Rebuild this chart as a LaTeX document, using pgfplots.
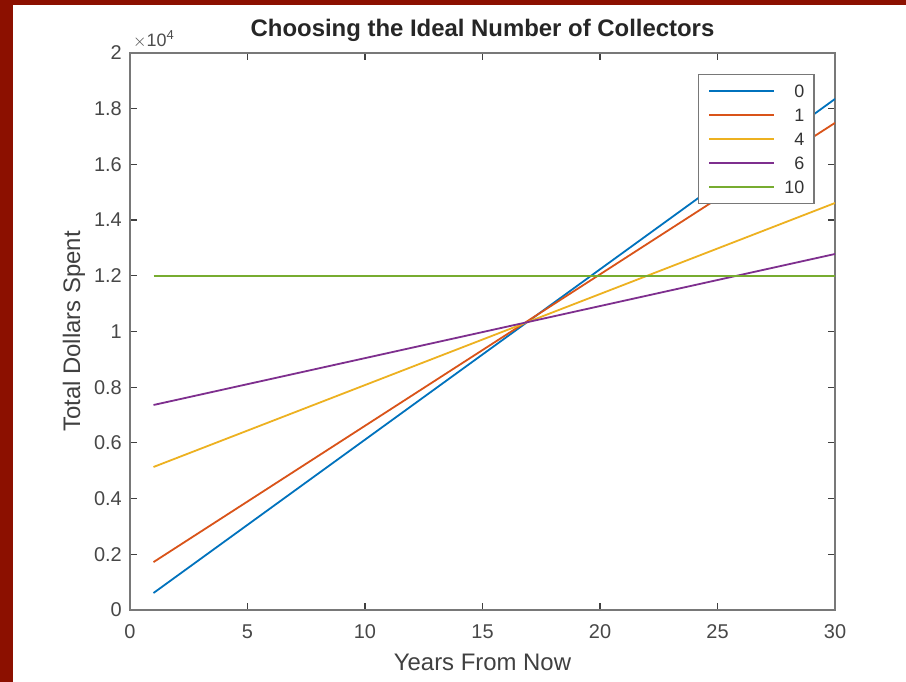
\documentclass[border=0pt]{standalone}
\usepackage{pgfplots}
\pgfplotsset{compat=1.18}
\usepackage{fontspec}
\setmainfont{Liberation Sans}
\definecolor{bordercol}{RGB}{140,16,0}
\definecolor{axcol}{RGB}{120,120,120}
\definecolor{mblue}{rgb}{0,0.447,0.741}
\definecolor{morange}{rgb}{0.85,0.325,0.098}
\definecolor{myellow}{rgb}{0.929,0.694,0.125}
\definecolor{mpurple}{rgb}{0.494,0.184,0.556}
\definecolor{mgreen}{rgb}{0.466,0.674,0.188}
\begin{document}
\begin{tikzpicture}
\fill[bordercol] (0,0) rectangle (906bp,682bp);
\fill[white] (13bp,0) rectangle (906bp,677bp);
\begin{axis}[
  at={(130bp,72bp)}, anchor=south west,
  scale only axis, width=705bp, height=557bp,
  xmin=0, xmax=30, ymin=0, ymax=20000,
  clip mode=individual,
  xtick={0,5,...,30},
  ytick={0,2000,...,20000},
  yticklabels={0,0.2,0.4,0.6,0.8,1,1.2,1.4,1.6,1.8,2},
  scaled y ticks=false,
  /pgf/number format/assume math mode=true,
  tick align=inside, xtick pos=both, ytick pos=both,
  major tick length=7bp,
  axis line style={axcol, line width=2.2bp},
  every tick/.style={black!75, line width=1.2bp},
  tick label style={font=\fontsize{20}{23}\selectfont, text=black!72, inner sep=0pt},
  xticklabel style={anchor=base, yshift=-28bp},
  yticklabel style={anchor=east, xshift=-8bp},
  title={\textbf{Choosing the Ideal Number of Collectors}},
  title style={font=\fontsize{24}{28}\selectfont, text=black!85, anchor=base, at={(axis description cs:0.5,1.018)}, inner sep=0pt},
  xlabel={Years From Now},
  xlabel style={font=\fontsize{24}{28}\selectfont, text=black!75, anchor=base, at={(axis description cs:0.5,-0.1095)}, inner sep=0pt},
  ylabel={Total Dollars Spent},
  ylabel style={font=\fontsize{24}{28}\selectfont, text=black!75, anchor=base, at={(axis description cs:-0.0709,0.5)}, inner sep=0pt},
  legend cell align=right,
  legend image code/.code={\draw[#1] (0bp,0bp) -- (65bp,0bp);},
  legend style={at={(axis description cs:0.9716,0.9623)}, anchor=north east,
    draw=axcol, line width=1.5bp, inner xsep=10bp, inner ysep=10bp,
    row sep=11bp, column sep=9bp,
    nodes={inner sep=0pt, text height=13bp, text depth=0bp, font=\fontsize{18}{20}\selectfont, text=black!80}},
  every axis plot/.append style={line width=1.8bp},
]
\addplot[mblue] coordinates {(1,610) (30,18350)};
\addlegendentry{0}
\addplot[morange] coordinates {(1,1720) (30,17490)};
\addlegendentry{1}
\addplot[myellow] coordinates {(1,5135) (30,14614)};
\addlegendentry{4}
\addplot[mpurple] coordinates {(1,7361) (30,12783)};
\addlegendentry{6}
\addplot[mgreen] coordinates {(1,12000) (30,12000)};
\addlegendentry{10}
\node[anchor=base west, inner sep=0pt, text=black!70] at ([xshift=3bp,yshift=6bp]rel axis cs:0,1) {\fontsize{18}{20}\selectfont $\times$10\raisebox{7bp}{\fontsize{13}{14}\selectfont 4}};
\end{axis}
\pgfresetboundingbox
\useasboundingbox (0,0) rectangle (906bp,682bp);
\end{tikzpicture}
\end{document}
